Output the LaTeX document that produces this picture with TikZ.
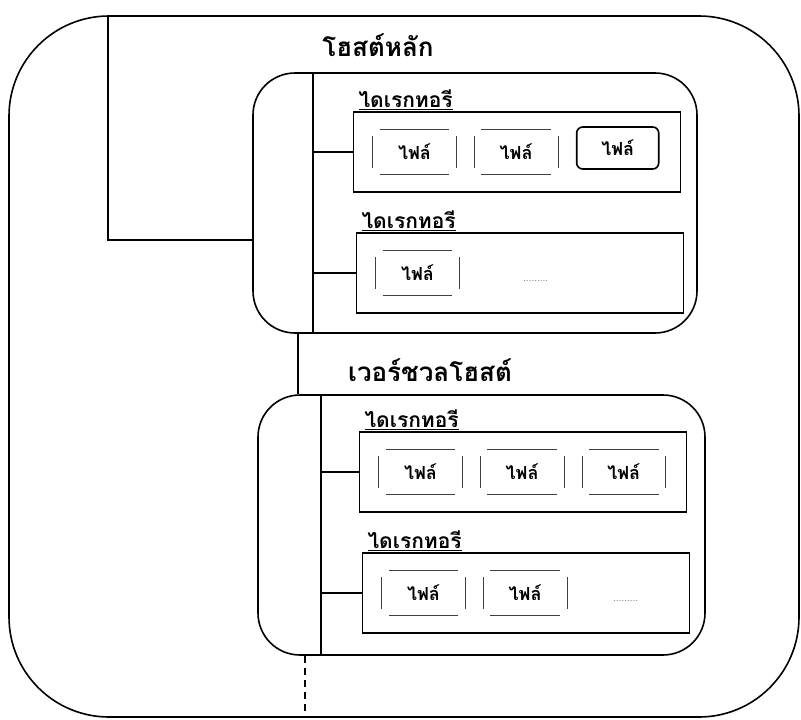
\documentclass[tikz,border=0pt]{standalone}
\usepackage{fontspec}
\newfontfamily\thaifont[Script=Thai]{Loma}
\usetikzlibrary{positioning}

\begin{document}
\begin{tikzpicture}[x=1pt,y=-1pt,line width=1.6pt,
  host box/.style={draw,rounded corners=#1,inner sep=0pt},
  dir box/.style={draw,minimum width=327pt,minimum height=80pt,inner sep=0pt},
  file node/.style={minimum width=82pt,minimum height=44pt,inner sep=0pt,font=\thaifont\bfseries\fontsize{18}{22}\selectfont},
  file line/.style={line width=0.8pt,black!75},
  host label/.style={font=\thaifont\bfseries\fontsize{26}{30}\selectfont,inner sep=0pt},
  dir label/.style={font=\thaifont\bfseries\fontsize{21}{24}\selectfont,inner sep=1pt}]
  \tikzset{dots/.style={font=\fontsize{10}{12}\selectfont,text=black!60,inner sep=0pt}}
  \useasboundingbox (0,0) rectangle (801,720);

  % outer host and the two inner hosts
  \node[host box=100pt,minimum width=790pt,minimum height=701pt] (server) at (404,366.5) {};
  \node[host box=42pt,minimum width=444pt,minimum height=260pt] (mainhost) at (475,203) {};
  \node[host box=42pt,minimum width=447pt,minimum height=260pt] (vhost) at (481.5,525) {};
  \node[host label] (mainlabel) at (378,45) {โฮสต์หลัก};
  \node[host label] (vlabel) at (430,370) {เวอร์ชวลโฮสต์};

  % directories
  \node[dir box] (d1) at (517,152) {};
  \node[dir box] (d2) at (520,273) {};
  \node[dir box] (d3) at (523,472) {};
  \node[dir box] (d4) at (526,593) {};
  \foreach \d in {d1,d2,d3,d4}
    \node[dir label,above right=0pt and 4pt of \d.north west] (\d label) {\underline{ไดเรกทอรี}};

  % files
  \node[file node,right=20pt of d1.west] (f11) {ไฟล์};
  \node[file node,right=18pt of f11] (f12) {ไฟล์};
  \node[file node,right=18pt of f12,draw,rounded corners=6pt,minimum height=42pt,yshift=4pt] (f13) {ไฟล์};
  \node[file node,right=20pt of d2.west] (f21) {ไฟล์};
  \node[dots] (more2) at ([xshift=180pt,yshift=-8pt]d2.west) {.........};
  \node[file node,right=20pt of d3.west] (f31) {ไฟล์};
  \node[file node,right=18pt of f31] (f32) {ไฟล์};
  \node[file node,right=18pt of f32] (f33) {ไฟล์};
  \node[file node,right=20pt of d4.west] (f41) {ไฟล์};
  \node[file node,right=18pt of f41] (f42) {ไฟล์};
  \node[dots] (more4) at ([xshift=264pt,yshift=-8pt]d4.west) {.........};
  \foreach \f in {f11,f12,f21,f31,f32,f33,f41,f42} {
    \draw[file line] ([xshift=7pt]\f.north west) -- ([xshift=-7pt]\f.north east);
    \draw[file line] ([xshift=7pt]\f.south west) -- ([xshift=-7pt]\f.south east);
    \draw[file line] ([yshift=-7pt]\f.north west) -- ([yshift=7pt]\f.south west);
    \draw[file line] ([yshift=-7pt]\f.north east) -- ([yshift=7pt]\f.south east);
  }

  % tree lines
  \coordinate (root) at (108,16);
  \coordinate (mh in) at (253,240);
  \coordinate (spine1) at (313,0);
  \coordinate (link) at (298,0);
  \coordinate (spine2) at (321,0);
  \coordinate (down) at (305,0);
  \draw (root) |- (mh in);
  \draw (spine1 |- mainhost.north) -- (spine1 |- mainhost.south);
  \draw (link |- mainhost.south) -- (link |- vhost.north);
  \draw (spine2 |- vhost.north) -- (spine2 |- vhost.south);
  \draw[dash pattern=on 7pt off 5pt] (down |- vhost.south) -- (down |- server.south);
  \foreach \d/\s in {d1/spine1,d2/spine1,d3/spine2,d4/spine2}
    \draw (\s |- \d.west) -- (\d.west);
\end{tikzpicture}
\end{document}
